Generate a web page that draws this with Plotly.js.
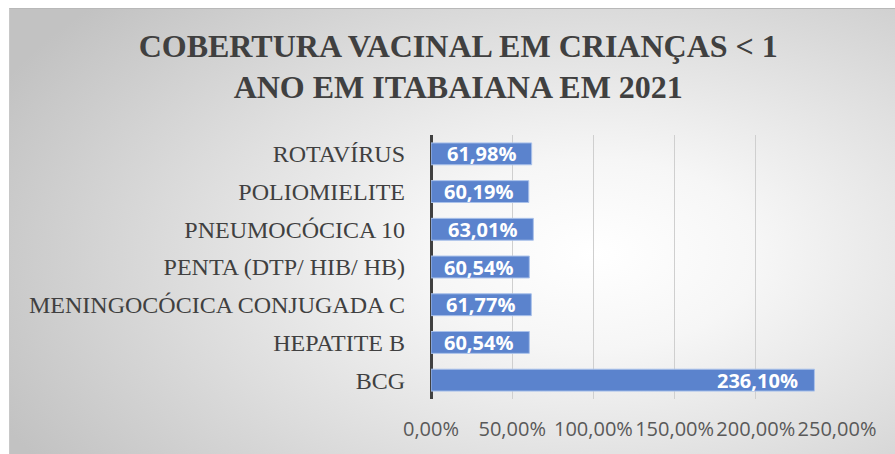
<!DOCTYPE html>
<html>
<head>
<meta charset="utf-8">
<script src="https://cdn.plot.ly/plotly-3.0.1.min.js"></script>
<style>
  html, body { margin: 0; padding: 0; background: #ffffff; }
  #wrap { position: relative; width: 895px; height: 454px; overflow: hidden; }
  #bg { position: absolute; left: 9px; top: 8px; right: 0; bottom: 0;
        background: radial-gradient(ellipse 75% 85% at 66% 55%, #ffffff 0%, #f6f6f6 25%, #dedede 60%, #c2c2c2 100%);
        border-top: 1px solid #b8b8b8; border-left: 1px solid #c8c8c8; }
  #chart { position: absolute; left: 0; top: 0; width: 895px; height: 454px; }
</style>
</head>
<body>
<div id="wrap">
  <div id="bg"></div>
  <div id="chart"></div>
</div>
<script>
const categories = ['BCG', 'HEPATITE B', 'MENINGOCÓCICA CONJUGADA C', 'PENTA (DTP/ HIB/ HB)', 'PNEUMOCÓCICA 10', 'POLIOMIELITE', 'ROTAVÍRUS'];
const coverage = [236.10, 60.54, 61.77, 60.54, 63.01, 60.19, 61.98];
const xTicks = [0, 50, 100, 150, 200, 250];
const titleText = 'COBERTURA VACINAL EM CRIANÇAS < 1<br>ANO EM ITABAIANA EM 2021';

const fmt = v => v.toFixed(2).replace('.', ',') + '%';

const trace = {
  type: 'bar',
  orientation: 'h',
  y: categories,
  x: coverage,
  width: 0.58,
  marker: { color: '#5b83cd', line: { color: '#a9c1ea', width: 1 } },
  hoverinfo: 'none'
};

const annotations = categories.map((c, i) => ({
  x: coverage[i], y: c, xref: 'x', yref: 'y',
  text: fmt(coverage[i]), showarrow: false,
  xanchor: 'right', yanchor: 'middle', xshift: -14, yshift: 0,
  font: { family: 'Open Sans', size: 20, color: '#ffffff', weight: 'bold' }
}));

const layout = {
  width: 895, height: 454,
  paper_bgcolor: 'rgba(0,0,0,0)',
  plot_bgcolor: 'rgba(0,0,0,0)',
  margin: { l: 431, r: 58, t: 135, b: 55, pad: 0 },
  showlegend: false,
  separators: ',.',
  title: {
    text: titleText,
    x: 0.512, xanchor: 'center',
    y: 1 - 56.5 / 454, yanchor: 'middle',
    font: { family: 'Liberation Serif', size: 32, color: '#404040', weight: 'bold' }
  },
  xaxis: {
    range: [0, 250],
    tickvals: xTicks,
    ticktext: xTicks.map(fmt),
    showgrid: true, gridcolor: '#cfcfcf', gridwidth: 1,
    zeroline: true, zerolinecolor: '#404040', zerolinewidth: 3,
    showline: false, ticks: '',
    ticklabelstandoff: 16,
    tickfont: { family: 'Open Sans', size: 20, color: '#595959' },
    fixedrange: true
  },
  yaxis: {
    type: 'category',
    categoryorder: 'array', categoryarray: categories,
    showgrid: false, zeroline: false, showline: false, ticks: '',
    ticklabelstandoff: 25,
    tickfont: { family: 'Liberation Serif', size: 24, color: '#404040' },
    fixedrange: true
  },
  annotations: annotations
};

Plotly.newPlot('chart', [trace], layout, { displayModeBar: false, staticPlot: true });
</script>
</body>
</html>
